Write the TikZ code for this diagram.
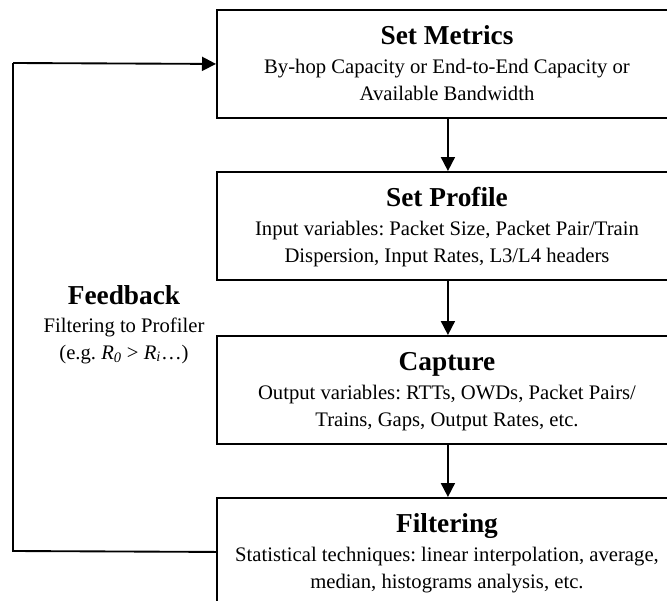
\documentclass[tikz,border=0pt]{standalone}
\usepackage{fontspec}
\setmainfont{Liberation Serif}
\usetikzlibrary{arrows.meta}
\frenchspacing
\begin{document}
\begin{tikzpicture}[x=0.75pt,y=-0.75pt,
  stagebox/.style={draw, line width=1.4pt, minimum width=346.5pt, minimum height=81pt, anchor=north west, inner sep=0pt},
  titletext/.style={anchor=base, inner sep=0pt, font=\fontsize{20.5}{24}\selectfont\bfseries},
  bodytext/.style={anchor=base, inner sep=0pt, align=center, font=\fontsize{15.5}{20}\selectfont\frenchspacing},
  flow/.style={line width=1.4pt, -{Triangle[length=10.5pt,width=10.5pt]}},
  fbline/.style={line width=1.4pt}]
\useasboundingbox (0,0) rectangle (667,600);
% boxes
\node[stagebox] (metrics) at (216,9) {};
\node[stagebox] (profile) at (216,171) {};
\node[stagebox] (capture) at (216,335) {};
\node[stagebox] (filter) at (216,497) {};
% texts (body nodes are anchored on the baseline of their last line)
\node[titletext] (metricsT) at (447,44) {Set Metrics};
\node[bodytext] (metricsB) at (447,100) {By-hop Capacity or End-to-End Capacity or\\Available Bandwidth};
\node[titletext] (profileT) at (447,206) {Set Profile};
\node[bodytext] (profileB) at (447,262) {Input variables: Packet Size, Packet Pair/Train\\Dispersion, Input Rates, L3/L4 headers};
\node[titletext] (captureT) at (447,370) {Capture};
\node[bodytext] (captureB) at (447,426) {Output variables: RTTs, OWDs, Packet Pairs/\\Trains, Gaps, Output Rates, etc.};
\node[titletext] (filterT) at (447,532) {Filtering};
\node[bodytext] (filterB) at (447,588) {Statistical techniques: linear interpolation, average,\\median, histograms analysis, etc.};
% feedback label
\node[titletext] (fbT) at (124,304) {Feedback};
\node[bodytext] (fbB) at (124,359) {Filtering to Profiler\\(e.g. \textit{R}\textsubscript{\textit{0}} > \textit{R}\textsubscript{\textit{i}}…)};
% arrows
\draw[flow] (metrics.south) -- (profile.north);
\draw[flow] (profile.south) -- (capture.north);
\draw[flow] (capture.south) -- (filter.north);
\coordinate (fbBottom) at (13,551);
\coordinate (fbTop) at (13,63);
\draw[fbline] (filter.west) -- (fbBottom) -- (fbTop);
\draw[flow] (fbTop) -- (metrics.west);
\end{tikzpicture}
\end{document}
